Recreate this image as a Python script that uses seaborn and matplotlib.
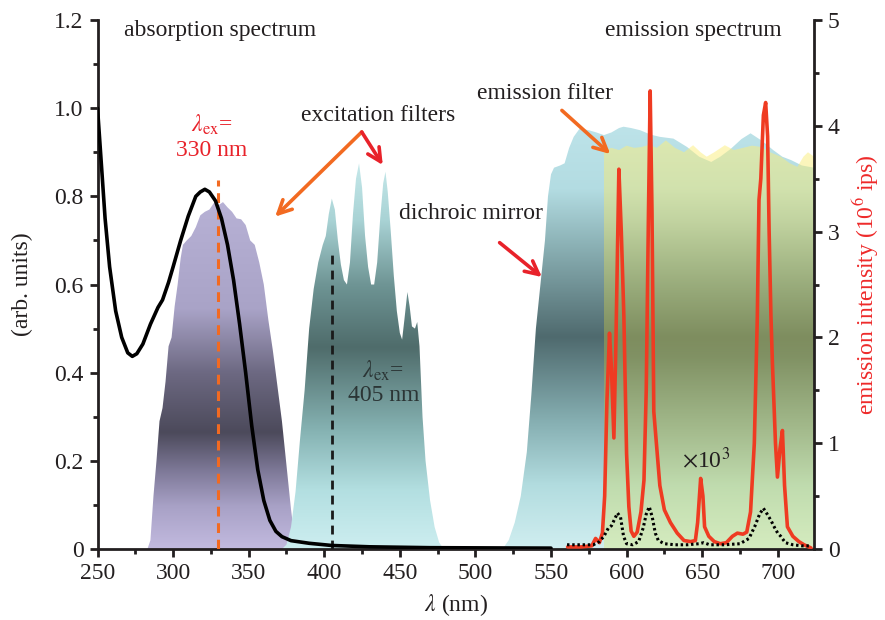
import numpy as np
import pandas as pd
import matplotlib
matplotlib.use("Agg")
import matplotlib.pyplot as plt
import seaborn as sns
from matplotlib.colors import LinearSegmentedColormap

# ------------------------------------------
# data
# ------------------------------------------

# absorption spectrum (left axis, arb. units)
abs_nm = [250, 252, 255, 258, 262, 266, 270, 273, 276, 280, 285, 290, 293, 297,
          300, 305, 310, 315, 318, 321, 324, 328, 332, 336, 340, 344, 348, 352,
          356, 360, 364, 368, 372, 378, 390, 405, 430, 470, 550]
abs_val = [1.0, 0.9, 0.75, 0.64, 0.54, 0.48, 0.445, 0.437, 0.443, 0.465, 0.51,
           0.548, 0.565, 0.605, 0.64, 0.70, 0.755, 0.80, 0.81, 0.816, 0.81, 0.79,
           0.75, 0.69, 0.61, 0.51, 0.40, 0.28, 0.18, 0.11, 0.065, 0.04, 0.028,
           0.019, 0.013, 0.008, 0.005, 0.003, 0.002]

# excitation filter for 330 nm
f330_nm = [283, 285, 287, 289, 291, 293, 295, 297, 299, 301, 303, 305, 306.5, 309,
           312, 315, 318, 321, 324, 327, 330, 333, 336, 339, 342, 345, 348, 351,
           354, 357, 360, 363, 366, 369, 372, 375, 378, 380, 383]
f330_val = [0, 0.02, 0.12, 0.2, 0.29, 0.32, 0.38, 0.46, 0.48, 0.55, 0.6, 0.66, 0.69,
            0.70, 0.71, 0.73, 0.757, 0.765, 0.77, 0.785, 0.78, 0.787, 0.775, 0.765,
            0.75, 0.748, 0.735, 0.70, 0.69, 0.65, 0.60, 0.52, 0.45, 0.37, 0.29,
            0.19, 0.09, 0.035, 0]

# excitation filter for 405 nm
f405_nm = [372, 375, 378, 381, 384, 387, 390, 393, 396, 399, 401, 403, 405, 407,
           409, 411, 413, 415, 417, 419, 421, 423, 425, 427, 429, 431, 433, 435,
           437, 439, 440.5, 442, 444, 446, 448, 450, 451.5, 453, 455, 456.5, 458,
           460, 461.5, 463, 465, 467, 470, 473, 476, 479]
f405_val = [0, 0.01, 0.05, 0.13, 0.25, 0.36, 0.5, 0.59, 0.65, 0.69, 0.71, 0.76,
            0.795, 0.77, 0.70, 0.645, 0.61, 0.60, 0.65, 0.76, 0.84, 0.875, 0.82,
            0.71, 0.64, 0.60, 0.60, 0.65, 0.75, 0.83, 0.856, 0.81, 0.72, 0.62,
            0.54, 0.49, 0.475, 0.52, 0.583, 0.55, 0.505, 0.50, 0.515, 0.46, 0.3,
            0.2, 0.11, 0.05, 0.015, 0]

# dichroic mirror
dich_nm = [518, 522, 526, 530, 534, 537, 540, 543, 546, 548, 550, 552, 556, 559,
           562, 565, 569, 575, 580, 585, 590, 595, 598, 603, 609, 616, 622, 631,
           640, 648, 656, 662, 669, 676, 682, 690, 697, 703, 709, 716, 724]
dich_val = [0, 0.02, 0.06, 0.12, 0.22, 0.35, 0.5, 0.6, 0.7, 0.8, 0.85, 0.865, 0.87,
            0.875, 0.91, 0.935, 0.954, 0.95, 0.945, 0.939, 0.945, 0.955, 0.958,
            0.955, 0.95, 0.94, 0.935, 0.931, 0.912, 0.89, 0.878, 0.89, 0.908, 0.93,
            0.943, 0.925, 0.905, 0.89, 0.882, 0.87, 0.865]

# emission filter
emf_nm = [584.9, 585, 590, 595, 600, 605, 610, 615, 620, 626, 632, 638, 644, 649,
          653, 658, 665, 671, 677, 683, 689, 695, 702, 708, 713, 717, 720, 724]
emf_val = [0, 0.905, 0.91, 0.905, 0.915, 0.91, 0.912, 0.917, 0.91, 0.927, 0.91,
           0.90, 0.916, 0.90, 0.89, 0.90, 0.916, 0.905, 0.91, 0.915, 0.912, 0.90,
           0.89, 0.875, 0.867, 0.89, 0.90, 0.89]

# emission spectrum (right axis, 10^6 ips)
em_nm = [561, 570, 577, 579.5, 582, 584, 585.5, 587, 588.7, 590, 591.6, 593, 594.9,
         596.5, 598.2, 600, 601.5, 603, 604.8, 607, 609.5, 611.5, 613, 614.5, 615.6,
         616.8, 618, 620, 622, 625, 629, 633.5, 638, 642.4, 645.5, 647, 649, 650.5,
         651.6, 654.4, 658, 662, 666, 670, 673.3, 677, 679.5, 682, 684.5, 686.5,
         687.6, 688.8, 690.5, 692, 693.3, 694.3, 695.5, 696.5, 698.5, 699.8, 701.5,
         703.1, 704.5, 706.4, 710, 714, 717.4, 722]
em_val = [0.02, 0.02, 0.03, 0.1, 0.06, 0.15, 0.5, 1.4, 2.04, 1.7, 1.05, 2.0, 3.59,
          3.0, 2.2, 0.9, 0.4, 0.17, 0.12, 0.16, 0.35, 0.65, 1.5, 3.2, 4.33, 3.2,
          1.3, 0.95, 0.6, 0.37, 0.25, 0.15, 0.08, 0.07, 0.08, 0.25, 0.667, 0.5,
          0.21, 0.12, 0.07, 0.05, 0.06, 0.12, 0.15, 0.14, 0.16, 0.35, 1.0, 2.2,
          3.3, 3.5, 4.1, 4.22, 3.9, 3.0, 2.2, 1.75, 1.0, 0.68, 0.95, 1.12, 0.6,
          0.21, 0.12, 0.07, 0.04, 0.01]

# weak emission (x10^3), dotted
weak_nm = [560.6, 570, 578, 582, 585, 588, 590, 592, 594, 596, 598, 600, 604, 608,
           611, 613, 615, 617, 619, 621, 625, 632, 640, 648, 651, 655, 665, 675,
           681, 685, 688, 690.5, 693, 695.5, 698, 700, 702, 705, 710, 716, 722]
weak_val = [0.04, 0.04, 0.04, 0.07, 0.12, 0.2, 0.22, 0.28, 0.34, 0.3, 0.12, 0.05,
            0.04, 0.07, 0.2, 0.33, 0.40, 0.3, 0.15, 0.08, 0.05, 0.04, 0.04, 0.05,
            0.06, 0.04, 0.04, 0.05, 0.1, 0.22, 0.33, 0.385, 0.33, 0.27, 0.2, 0.15,
            0.12, 0.06, 0.04, 0.03, 0.03]

# ------------------------------------------
# style
# ------------------------------------------
sns.set_theme(style="ticks")
plt.rcParams["font.family"] = ["Liberation Serif", "DejaVu Serif"]
plt.rcParams["mathtext.fontset"] = "stix"

ORANGE = "#f26a21"
RED = "#e8222a"
TXT = "#231f20"


def gradient_fill(ax, x, y, stops, colors, ymax, zorder, alpha=1.0):
    # fill under the curve with a vertical colour gradient
    poly = ax.fill_between(x, 0, y, facecolor="none", lw=0)
    cmap = LinearSegmentedColormap.from_list("g", list(zip(stops, colors)))
    grad = np.linspace(0, 1, 256).reshape(-1, 1)
    im = ax.imshow(grad, cmap=cmap, aspect="auto", origin="lower",
                   extent=[min(x), max(x), 0, ymax], zorder=zorder, alpha=alpha,
                   interpolation="bilinear")
    im.set_clip_path(poly.get_paths()[0], transform=ax.transData)
    return im


fig = plt.figure(figsize=(8.85, 6.2), dpi=100)
ax = fig.add_axes([0.1102, 0.1145, 0.8096, 0.8532])
ax2 = ax.twinx()

# filters
gradient_fill(ax, f330_nm, f330_val, [0, 0.12, 0.22, 0.33, 0.5, 0.68, 1.0],
              ["#c2badf", "#a8a1c6", "#7e7998", "#4c4a5b", "#6d6982", "#a9a3c7", "#b8b2d6"],
              0.8, 1)
gradient_fill(ax, f405_nm, f405_val, [0, 0.15, 0.3, 0.52, 0.68, 0.85, 1.0],
              ["#cdeef0", "#b3dfe1", "#87b4b4", "#4f6c6b", "#6e9494", "#a9d3d5", "#c6e9eb"],
              0.88, 1)
gradient_fill(ax, dich_nm, dich_val, [0, 0.15, 0.3, 0.5, 0.72, 0.85, 1.0],
              ["#d0eef0", "#b2dcdf", "#86afb2", "#4f6a6e", "#8cb2b6", "#b3dce2", "#bde3e9"],
              0.96, 1)
gradient_fill(ax, emf_nm, emf_val, [0, 0.15, 0.3, 0.47, 0.65, 0.8, 1.0],
              ["#dbea8f", "#cfdc7e", "#bcc060", "#a7aa4a", "#c4c862", "#e8e478", "#fff07a"],
              0.93, 2, alpha=0.5)

# absorption curve
sns.lineplot(x=abs_nm, y=abs_val, ax=ax, color="black", lw=2.6,
             estimator=None, sort=False, zorder=5)

# excitation wavelengths
ax.plot([330, 330], [0, 0.837], ls=(0, (3.2, 2.2)), color=ORANGE, lw=2.2, zorder=4)
ax.plot([405, 405], [0, 0.67], ls=(0, (3.2, 2.2)), color="#1a1a1a", lw=2.0, zorder=4)

# emission (right axis)
sns.lineplot(x=em_nm, y=em_val, ax=ax2, color="#ef3b22", lw=2.6,
             estimator=None, sort=False, zorder=3)
sns.lineplot(x=weak_nm, y=weak_val, ax=ax2, color="black", lw=2.2,
             ls=(0, (0.8, 0.9)), estimator=None, sort=False, zorder=4)

# axes
ax.set_xlim(250, 724)
ax.set_ylim(0, 1.2)
ax2.set_ylim(0, 5)
ax.set_xticks(np.arange(250, 701, 50))
ax.set_xticks(np.arange(275, 724, 50), minor=True)
ax.set_yticks([0, 0.2, 0.4, 0.6, 0.8, 1.0, 1.2])
ax.set_yticklabels(["0", "0.2", "0.4", "0.6", "0.8", "1.0", "1.2"])
ax.set_yticks(np.arange(0.1, 1.2, 0.2), minor=True)
ax2.set_yticks(range(0, 6))
ax2.set_yticks(np.arange(0.5, 5, 1.0), minor=True)

for a in (ax, ax2):
    a.spines["top"].set_visible(False)
    for s in a.spines.values():
        s.set_linewidth(2.0)
        s.set_color(TXT)
    a.tick_params(which="major", direction="out", length=6, width=2.0,
                  labelsize=17, colors=TXT, pad=4)
    a.tick_params(which="minor", direction="out", length=3.5, width=2.0, colors=TXT)
ax.spines["right"].set_visible(False)
ax2.spines["left"].set_visible(False)
ax2.spines["bottom"].set_visible(False)

ax.set_xlabel(r"$\lambda$ (nm)", fontsize=17, color=TXT, labelpad=6)
ax.set_ylabel("(arb. units)", fontsize=17, color=TXT, labelpad=15)
ax2.set_ylabel("emission intensity (10$^6$ ips)", fontsize=17, color="#ee2a2a",
               labelpad=8)

# annotations
ax.text(267.5, 1.177, "absorption spectrum", fontsize=17, color=TXT, ha="left", va="center")
ax.text(585.9, 1.177, "emission spectrum", fontsize=17, color=TXT, ha="left", va="center")
ax.text(325.5, 0.962, r"$\lambda_{\rm ex}$=", fontsize=17, color=RED, ha="center", va="center")
ax.text(325.5, 0.905, "330 nm", fontsize=17, color=RED, ha="center", va="center")
ax.text(439, 0.405, r"$\lambda_{\rm ex}$=", fontsize=17, color="#2b3535", ha="center", va="center")
ax.text(439, 0.348, "405 nm", fontsize=17, color="#2b3535", ha="center", va="center")
ax.text(435.6, 0.984, "excitation filters", fontsize=17, color=TXT, ha="center", va="center")
ax.text(546, 1.034, "emission filter", fontsize=17, color=TXT, ha="center", va="center")
ax.text(497, 0.762, "dichroic mirror", fontsize=17, color=TXT, ha="center", va="center")
ax.text(652.3, 0.202, r"$\times$10$^3$", fontsize=17, color=TXT, ha="center", va="center")

arrow = dict(arrowstyle="->", lw=2.6, mutation_scale=24, shrinkA=0, shrinkB=0)
ax.annotate("", xy=(367.5, 0.754), xytext=(424.8, 0.946),
            arrowprops=dict(arrow, color=ORANGE), zorder=6)
ax.annotate("", xy=(438.7, 0.871), xytext=(424.8, 0.946),
            arrowprops=dict(arrow, color=RED), zorder=6)
ax.annotate("", xy=(544, 0.617), xytext=(516, 0.695),
            arrowprops=dict(arrow, color=RED), zorder=6)
ax.annotate("", xy=(589.2, 0.896), xytext=(557.2, 0.995),
            arrowprops=dict(arrow, color=ORANGE), zorder=6)

fig.savefig("out.png", dpi=100)
